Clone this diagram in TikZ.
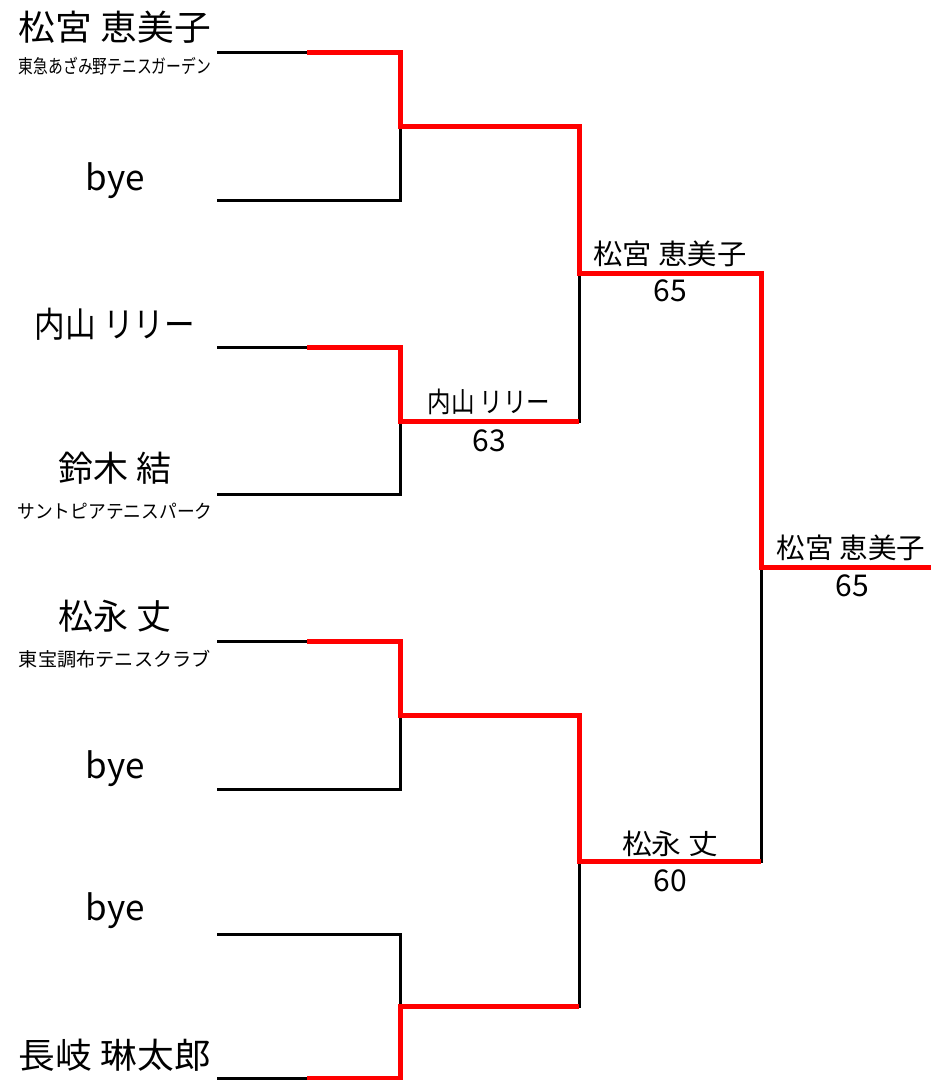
\documentclass[tikz,border=0pt]{standalone}
\usepackage{fontspec}
\setmainfont{Noto Sans CJK JP}
\usepackage{graphicx}
\begin{document}
\begin{tikzpicture}[x=1bp,y=-1bp,
  bl/.style={line width=3bp,black,line join=miter},
  rd/.style={line width=5bp,red,line join=miter},
  nm/.style={inner sep=0,anchor=center,text height=29.75bp,text depth=5.25bp,font=\fontsize{35bp}{40bp}\selectfont},
  sub/.style={inner sep=0,anchor=center,text height=16.15bp,text depth=2.85bp,font=\fontsize{19bp}{22bp}\selectfont},
  lb/.style={inner sep=0,anchor=center,text height=23.8bp,text depth=4.2bp,font=\fontsize{28bp}{30bp}\selectfont},
  sc/.style={inner sep=0,anchor=center,text height=25.5bp,text depth=4.5bp,font=\fontsize{30bp}{32bp}\selectfont}]
\useasboundingbox (0,0) rectangle (931,1080);
% coordinates
\foreach \i/\y in {1/52,2/200,3/347,4/494,5/641,6/789,7/934,8/1078}{
  \coordinate (P\i) at (217,\y);
  \coordinate (R\i) at (307,\y);
  \coordinate (Q\i) at (400,\y);
}
\foreach \i/\y in {1/126,2/421,3/715,4/1006}{
  \coordinate (W\i) at (400,\y);
  \coordinate (W\i e) at (579,\y);
}
\coordinate (V1) at (579,273); \coordinate (V1e) at (761,273);
\coordinate (V2) at (579,861); \coordinate (V2e) at (761,861);
\coordinate (F) at (761,567); \coordinate (Fe) at (931,567);
% black bracket
\draw[bl] (P1)--(Q1)--(Q2)--(P2);
\draw[bl] (P3)--(Q3)--(Q4)--(P4);
\draw[bl] (P5)--(Q5)--(Q6)--(P6);
\draw[bl] (P7)--(Q7)--(Q8)--(P8);
\draw[bl] (W1)--(W1e)--(W2e)--(W2);
\draw[bl] (W3)--(W3e)--(W4e)--(W4);
\draw[bl] (V1)--(V1e)--(V2e)--(V2);
\draw[bl] (F)--(Fe);
% red winners
\draw[rd] (R1)--(Q1)--(W1)--(W1e)--(V1)--(V1e)--(F)--(Fe);
\draw[rd] (R3)--(Q3)--(W2)--(W2e);
\draw[rd] (R5)--(Q5)--(W3)--(W3e)--(V2)--(V2e);
\draw[rd] (R8)--(Q8)--(W4)--(W4e);
% player names
\node[nm] (n1) at (115,28) {\resizebox{192bp}{\height}{松宮 恵美子}};
\node[sub] (s1) at (115,67) {\resizebox{192bp}{\height}{東急あざみ野テニスガーデン}};
\node[nm] (n2) at (115,178) {bye};
\node[nm] (n3) at (115,325) {\resizebox{160bp}{\height}{内山 リリー}};
\node[nm] (n4) at (115,469) {鈴木 結};
\node[sub] (s4) at (115,512) {\resizebox{195bp}{\height}{サントピアテニスパーク}};
\node[nm] (n5) at (115,617) {松永 丈};
\node[sub] (s5) at (115,660) {\resizebox{192bp}{\height}{東宝調布テニスクラブ}};
\node[nm] (n6) at (115,766) {bye};
\node[nm] (n7) at (115,908) {bye};
\node[nm] (n8) at (115,1056) {\resizebox{192bp}{\height}{長岐 琳太郎}};
% winner labels
\node[lb] (l1) at (489,403) {\resizebox{123bp}{\height}{内山 リリー}};
\node[sc] (c1) at (489,441) {63};
\node[lb] (l2) at (670,255) {\resizebox{153bp}{\height}{松宮 恵美子}};
\node[sc] (c2) at (670,291) {65};
\node[lb] (l3) at (670,845) {\resizebox{96bp}{\height}{松永 丈}};
\node[sc] (c3) at (670,881) {60};
\node[lb] (l4) at (851,549) {\resizebox{149bp}{\height}{松宮 恵美子}};
\node[sc] (c4) at (852,586) {65};
\end{tikzpicture}
\end{document}
